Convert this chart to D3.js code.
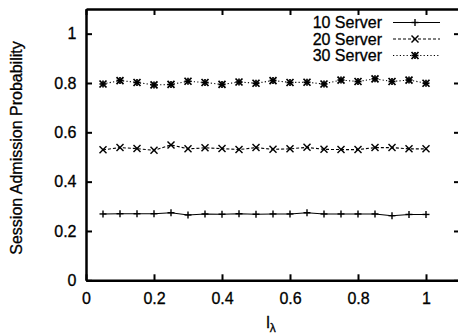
<!DOCTYPE html>
<html>
<head>
<meta charset="utf-8">
<script src="https://cdn.jsdelivr.net/npm/d3@7"></script>
<style>
  body { margin: 0; background: #fff; }
  svg { display: block; font-family: "Liberation Sans", Arial, sans-serif; }
  svg text { stroke: #000; stroke-width: 0.3px; }
</style>
</head>
<body>
<script>
// data
const loadX = [0.05, 0.1, 0.15, 0.2, 0.25, 0.3, 0.35, 0.4, 0.45, 0.5,
  0.55, 0.6, 0.65, 0.7, 0.75, 0.8, 0.85, 0.9, 0.95, 1.0];
const server10 = [0.269, 0.270, 0.270, 0.270, 0.274, 0.265, 0.269, 0.268, 0.270, 0.268,
  0.269, 0.269, 0.274, 0.269, 0.269, 0.269, 0.269, 0.262, 0.267, 0.267];
const server20 = [0.529, 0.538, 0.534, 0.527, 0.549, 0.533, 0.537, 0.534, 0.530, 0.538,
  0.531, 0.533, 0.539, 0.531, 0.530, 0.530, 0.538, 0.538, 0.533, 0.533];
const server30 = [0.796, 0.810, 0.802, 0.792, 0.794, 0.807, 0.802, 0.794, 0.804, 0.799,
  0.810, 0.802, 0.803, 0.796, 0.812, 0.806, 0.817, 0.806, 0.812, 0.799];
const seriesNames = ['10 Server', '20 Server', '30 Server'];
const xTicks = [0, 0.2, 0.4, 0.6, 0.8, 1];
const yTicks = [0, 0.2, 0.4, 0.6, 0.8, 1];

const width = 458, height = 335;
const fontSize = 16;

const svg = d3.select('body').
append('svg').
attr('width', width).
attr('height', height);

const x = d3.scaleLinear().domain([0, 1.1]).range([86, 460]);
const y = d3.scaleLinear().domain([0, 1.1]).range([280.3, 9]);

const fmt = d => d === 0 ? '0' : d === 1 ? '1' : d3.format('.1f')(d);

svg.append('g').
attr('transform', 'translate(0,' + y(0) + ')').
call(d3.axisBottom(x).tickValues(xTicks).tickFormat(fmt).tickSizeInner(-6).tickSizeOuter(0).tickPadding(12.5));

svg.append('g').
attr('transform', 'translate(' + x(0) + ',0)').
call(d3.axisLeft(y).tickValues(yTicks).tickFormat(fmt).tickSizeInner(-6).tickSizeOuter(0).tickPadding(9.5));

// mirror ticks on top and right
svg.append('g').
attr('transform', 'translate(0,' + y(1.1) + ')').
call(d3.axisTop(x).tickValues(xTicks).tickFormat('').tickSizeInner(-6).tickSizeOuter(0));

svg.append('g').
attr('transform', 'translate(' + x(1.1) + ',0)').
call(d3.axisRight(y).tickValues(yTicks).tickFormat('').tickSizeInner(-6).tickSizeOuter(0));

svg.selectAll('.tick text').
style('font-size', fontSize + 'px').
style('font-family', '"Liberation Sans", Arial, sans-serif').
attr('fill', '#000');
svg.selectAll('.domain').attr('stroke', '#000').attr('stroke-width', 2.5);
svg.selectAll('.tick line').attr('stroke', '#000').attr('stroke-width', 2);

// marker shapes
function drawMarker(g, kind, cx, cy) {
  const s = 3.5;
  const plus = [[cx - s, cy, cx + s, cy], [cx, cy - s, cx, cy + s]];
  const cross = [[cx - s, cy - s, cx + s, cy + s], [cx - s, cy + s, cx + s, cy - s]];
  let segs = kind === 'plus' ? plus : kind === 'cross' ? cross : plus.concat(cross);
  segs.forEach(p => {
    g.append('line').
    attr('x1', p[0]).attr('y1', p[1]).attr('x2', p[2]).attr('y2', p[3]).
    attr('stroke', '#000').
    attr('stroke-width', kind === 'star' ? 1.7 : 1.4);
  });
}

const series = [
{ name: seriesNames[0], values: server10, dash: null, marker: 'plus' },
{ name: seriesNames[1], values: server20, dash: '3,2', marker: 'cross' },
{ name: seriesNames[2], values: server30, dash: '1.2,2.2', marker: 'star' }];

const line = d3.line().
x(d => x(d[0])).
y(d => y(d[1]));

series.forEach(s => {
  const pts = loadX.map((v, i) => [v, s.values[i]]);
  svg.append('path').
  datum(pts).
  attr('d', line).
  attr('fill', 'none').
  attr('stroke', '#000').
  attr('stroke-width', 1.1).
  attr('stroke-dasharray', s.dash);
  const mg = svg.append('g');
  pts.forEach(p => drawMarker(mg, s.marker, x(p[0]), y(p[1])));
});

// legend
const legend = svg.append('g');
series.forEach((s, i) => {
  const ly = 22.5 + i * 16.5;
  legend.append('text').
  attr('x', 382).
  attr('y', ly).
  attr('dy', '0.36em').
  attr('text-anchor', 'end').
  style('font-size', fontSize + 'px').
  text(s.name);
  legend.append('line').
  attr('x1', 393).attr('x2', 440).
  attr('y1', ly).attr('y2', ly).
  attr('stroke', '#000').
  attr('stroke-width', 1.1).
  attr('stroke-dasharray', s.dash);
  drawMarker(legend, s.marker, 415, ly);
});

// axis titles
const xt = svg.append('text').
attr('x', 271).
attr('y', 328).
attr('text-anchor', 'middle').
style('font-size', fontSize + 'px');
xt.append('tspan').text('l');
xt.append('tspan').attr('dy', 4).style('font-size', '12px').text('λ');

svg.append('text').
attr('transform', 'translate(22,148) rotate(-90)').
attr('text-anchor', 'middle').
style('font-size', fontSize + 'px').
text('Session Admission Probability');
</script>
</body>
</html>
